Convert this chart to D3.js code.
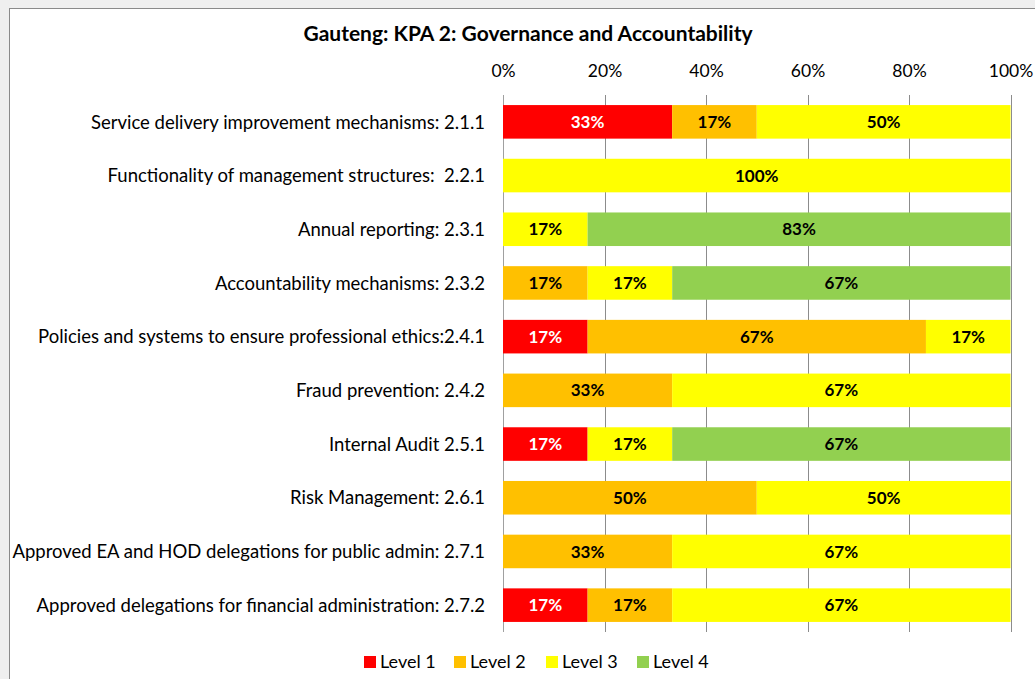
<!DOCTYPE html>
<html>
<head>
<meta charset="utf-8">
<script src="https://cdn.jsdelivr.net/npm/d3@7"></script>
<style>
  html, body { margin: 0; padding: 0; background: #efefef; }
  svg { display: block; }
  text { font-family: Lato, "Open Sans", sans-serif; }
</style>
</head>
<body>
<svg id="chart" width="1035" height="679"></svg>
<script>
const categories = [
  'Service delivery improvement mechanisms: 2.1.1',
  'Functionality of management structures:  2.2.1',
  'Annual reporting: 2.3.1',
  'Accountability mechanisms: 2.3.2',
  'Policies and systems to ensure professional ethics:2.4.1',
  'Fraud prevention: 2.4.2',
  'Internal Audit 2.5.1',
  'Risk Management: 2.6.1',
  'Approved EA and HOD delegations for public admin: 2.7.1',
  'Approved delegations for financial administration: 2.7.2'
];
const levelNames = ['Level 1', 'Level 2', 'Level 3', 'Level 4'];
const level1 = [33.33, 0, 0, 0, 16.67, 0, 16.67, 0, 0, 16.67];
const level2 = [16.67, 0, 0, 16.67, 66.67, 33.33, 0, 50, 33.33, 16.67];
const level3 = [50, 100, 16.67, 16.67, 16.66, 66.67, 16.67, 50, 66.67, 66.66];
const level4 = [0, 0, 83.33, 66.66, 0, 0, 66.66, 0, 0, 0];
const xTicks = [0, 20, 40, 60, 80, 100];
const colors = ['#ff0000', '#ffc000', '#ffff00', '#92d050'];
const labelColors = ['#ffffff', '#000000', '#000000', '#000000'];

const svg = d3.select('#chart');

// chart frame
svg.append('rect')
  .attr('x', 9.5).attr('y', 8.5)
  .attr('width', 1040).attr('height', 700)
  .attr('fill', '#ffffff')
  .attr('stroke', '#8a8a8a');

svg.append('text')
  .attr('x', 528).attr('y', 41)
  .attr('text-anchor', 'middle')
  .attr('font-size', 21).attr('font-weight', 'bold')
  .text('Gauteng: KPA 2: Governance and Accountability');

const x = d3.scaleLinear().domain([0, 100]).range([503, 1010.5]);
const y = d3.scaleBand().domain(categories).range([95, 632]).paddingInner(0.375).paddingOuter(0.1875);

// gridlines
svg.append('g')
  .selectAll('line')
  .data(xTicks)
  .join('line')
  .attr('x1', (d) => Math.round(x(d)) + 0.5)
  .attr('x2', (d) => Math.round(x(d)) + 0.5)
  .attr('y1', 95).attr('y2', 632)
  .attr('stroke', (d) => (d === 0 ? '#a0a0a0' : '#8c8c8c'))
  .attr('stroke-width', 1);

// top axis labels
const xAxis = svg.append('g')
  .attr('transform', 'translate(0,77)')
  .call(d3.axisTop(x).tickValues(xTicks).tickFormat((d) => d + '%').tickSize(0).tickPadding(0));
xAxis.select('.domain').remove();
xAxis.selectAll('text').attr('font-size', 17.5).attr('fill', '#000')
  .style('font-family', 'Lato, sans-serif');

// stacked data
const rows = categories.map((c, i) => ({
  category: c,
  values: [level1[i], level2[i], level3[i], level4[i]]
}));
const segments = [];
rows.forEach((r) => {
  let acc = 0;
  r.values.forEach((v, k) => {
    if (v > 0) segments.push({ category: r.category, level: k, value: v, x0: acc, x1: Math.min(100, acc + v) });
    acc += v;
  });
});

svg.append('g')
  .selectAll('rect')
  .data(segments)
  .join('rect')
  .attr('x', (d) => x(d.x0))
  .attr('width', (d) => x(d.x1) - x(d.x0))
  .attr('y', (d) => y(d.category))
  .attr('height', y.bandwidth())
  .attr('fill', (d) => colors[d.level]);

svg.append('g')
  .selectAll('text')
  .data(segments)
  .join('text')
  .attr('x', (d) => (x(d.x0) + x(d.x1)) / 2)
  .attr('y', (d) => y(d.category) + y.bandwidth() / 2)
  .attr('dy', '0.36em')
  .attr('text-anchor', 'middle')
  .attr('font-size', 17).attr('font-weight', 'bold')
  .attr('fill', (d) => labelColors[d.level])
  .text((d) => Math.round(d.value) + '%');

// category labels
svg.append('g')
  .selectAll('text')
  .data(categories)
  .join('text')
  .attr('x', 485)
  .attr('y', (d) => y(d) + y.bandwidth() / 2)
  .attr('dy', '0.36em')
  .attr('text-anchor', 'end')
  .attr('font-size', 18.5)
  .attr('fill', '#000')
  .style('white-space', 'pre')
  .text((d) => d);

// legend
const legendX = [364, 454, 546, 637];
const legend = svg.append('g')
  .selectAll('g')
  .data(levelNames)
  .join('g')
  .attr('transform', (d, i) => `translate(${legendX[i]},656)`);
legend.append('rect')
  .attr('width', 12).attr('height', 12)
  .attr('fill', (d, i) => colors[i]);
legend.append('text')
  .attr('x', 16).attr('y', 6).attr('dy', '0.36em')
  .attr('font-size', 18)
  .text((d) => d);
</script>
</body>
</html>
